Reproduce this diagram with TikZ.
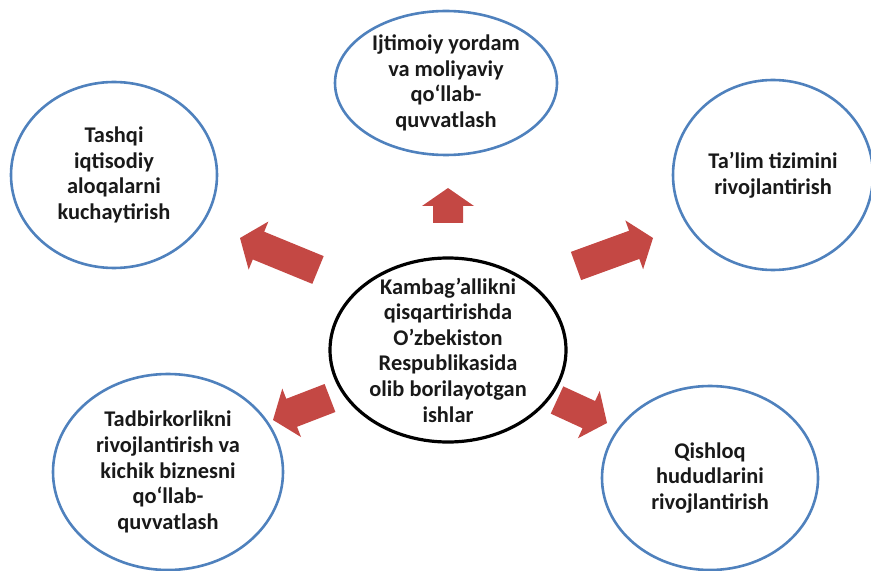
\documentclass[tikz,border=0pt]{standalone}
\usepackage{fontspec}
\setmainfont{Carlito}
\usetikzlibrary{positioning, shapes.geometric, calc}
\definecolor{ringblue}{RGB}{79,129,189}
\definecolor{arrowred}{RGB}{196,72,68}

\begin{document}
\begin{tikzpicture}[%
    x = 0.5pt,
    y = -0.5pt,
    on grid,
    every node/.style = {%
      ellipse,
      inner sep = 0pt,
      align = center,
      text = black!90,
      font = \bfseries\fontsize{11.2}{12.8}\selectfont },
    bubble/.style = {draw = ringblue, line width = 1.3pt},
    hub/.style = {draw = black, line width = 1.6pt}
  ]

  \useasboundingbox (0,0) rectangle (871,571);

  \node[hub, minimum width=118pt, minimum height=92pt, inner ysep=-5pt] (K) at (448,350)
    {Kambag’allikni\\qisqartirishda\\O’zbekiston\\Respublikasida\\olib borilayotgan\\ishlar};
  \node[bubble, minimum width=111pt, minimum height=72pt] (T) [above=133.5pt of K, xshift=-1pt]
    {Ijtimoiy yordam\\va moliyaviy\\qo‘llab-\\quvvatlash};
  \node[bubble, minimum width=103pt, minimum height=93pt] (UL) [above left=87.5pt and 167pt of K]
    {Tashqi\\iqtisodiy\\aloqalarni\\kuchaytirish};
  \node[bubble, minimum width=100pt, minimum height=95pt] (UR) [above right=87.5pt and 162.5pt of K]
    {Ta’lim tizimini\\rivojlantirish};
  \node[bubble, minimum width=115pt, minimum height=98pt] (LL) [below left=61pt and 140pt of K]
    {Tadbirkorlikni\\rivojlantirish va\\kichik biznesni\\qo‘llab-\\quvvatlash};
  \node[bubble, minimum width=108pt, minimum height=92pt] (LR) [below right=64pt and 131pt of K]
    {Qishloq\\hududlarini\\rivojlantirish};

  % block arrows: tail -- tip
  \coordinate (ula) at (318,270); \coordinate (ulb) at (240,238);
  \coordinate (ta)  at (448,223); \coordinate (tb)  at (448,188);
  \coordinate (ura) at (576,266); \coordinate (urb) at (653,238);
  \coordinate (lla) at (330,398); \coordinate (llb) at (273,420);
  \coordinate (lra) at (557,400); \coordinate (lrb) at (607,423);

  \foreach \a/\b/\h in {ula/ulb/10pt, ta/tb/9pt, ura/urb/10pt, lla/llb/10pt, lra/lrb/10pt} {
    \coordinate (hb) at ($(\b)!\h!(\a)$);
    \fill[arrowred]
      ($(\a)!7.5pt!90:(\b)$) -- ($(hb)!7.5pt!-90:(\a)$) -- ($(hb)!13pt!-90:(\a)$)
      -- (\b) -- ($(hb)!13pt!90:(\a)$) -- ($(hb)!7.5pt!90:(\a)$)
      -- ($(\a)!7.5pt!-90:(\b)$) -- cycle;
  }

\end{tikzpicture}
\end{document}
